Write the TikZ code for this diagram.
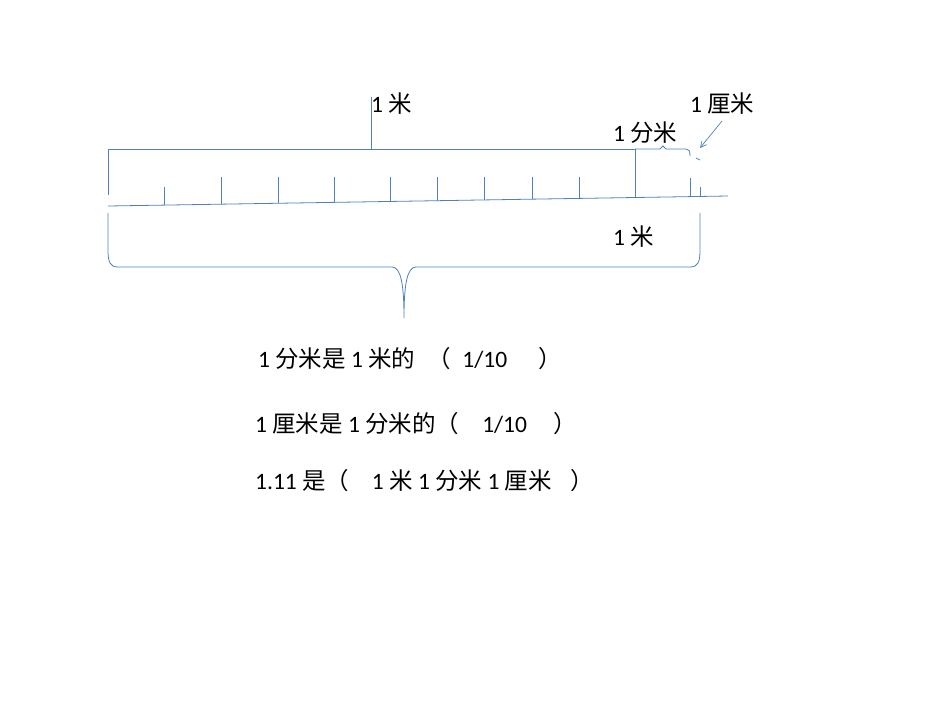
\documentclass[tikz,border=0pt]{standalone}
\usepackage{fontspec}
\setmainfont{Carlito}
\newfontfamily\cjk{Noto Sans CJK SC}
\newcommand{\cj}[1]{{\cjk #1}}
\usetikzlibrary{arrows.meta, positioning}
\definecolor{rulerblue}{RGB}{79,129,189}

\begin{document}
\begin{tikzpicture}[
		x=1pt, y=-1pt,
		ruler/.style={draw=rulerblue, line width=0.8pt},
		tick/.style={draw=rulerblue, line width=0.75pt},
		lbl/.style={anchor=west, inner sep=0pt, font=\fontsize{23.5}{28}\selectfont, text=black},
		pointer/.style={draw=rulerblue, line width=0.7pt, -{Straight Barb[length=6pt, width=6pt]}}
		]
		\useasboundingbox (0,0) rectangle (950,713);
		
		% upper brace: 1 m
		\draw[ruler] (108,195) -- (108,149) -- (635,149);
		\draw[ruler] (371,149) -- (371,97);
		% small brace: 1 dm
		\draw[ruler] (635,149) -- (660,149) -- (663,146) -- (666,149) -- (686,149) .. controls (689,149) and (690,151) .. (690,156);
		\draw[tick] (696,158) -- (700,160);
		
		% ruler base line
		\draw[ruler] (108,206) -- (728,196);
		\draw[tick] (164,187) -- (164,205);
		\foreach \xx in {221,278,334,390,437,484,532,579}{
			\pgfmathsetmacro{\yy}{206-10*(\xx-108)/620}
			\draw[tick] (\xx,177) -- (\xx,\yy);
		}
		\draw[tick] (635,149) -- (635,197.5);
		\draw[tick] (690,178) -- (690,196.5);
		\draw[tick] (700,187) -- (700,196.5);
		
		% lower brace
		\draw[ruler] (108,213) -- (108,250) .. controls (108,262) and (110,267) .. (118,267)
			-- (392,267) .. controls (401,267) and (404,285) .. (404,318)
			.. controls (404,285) and (407,267) .. (416,267)
			-- (690,267) .. controls (698,267) and (700,262) .. (700,250) -- (700,213);
		
		% labels
		\node[lbl] (metertop) at (371,104) {1 \cj{米}};
		\node[lbl] (cmlabel) at (690,104) {1 \cj{厘米}};
		\node[lbl] (dmlabel) at (613,133) {1 \cj{分米}};
		\node[lbl] (meterlow) at (613,237) {1 \cj{米}};
		\coordinate (cmfrom) at (722,121);
		\coordinate (cmtip) at (700,148);
		\draw[pointer] (cmfrom) -- (cmtip);
		
		% questions
		\node[lbl] (qone) at (258,359) {1 \cj{分米是} 1 \cj{米的}\hspace{0.5em}\cj{（}\hspace{0.5em}1/10\hspace{1.35em}\cj{）}};
		\node[lbl] (qtwo) at (255,424) {1 \cj{厘米是} 1 \cj{分米的}\cj{（}\hspace{0.97em}1/10\hspace{1.12em}\cj{）}};
		\node[lbl] (qthree) at (255,481) {1.11 \cj{是}\cj{（}\hspace{0.97em}1 \cj{米} 1 \cj{分米} 1 \cj{厘米}\hspace{0.8em}\cj{）}};
		
	\end{tikzpicture}
\end{document}
